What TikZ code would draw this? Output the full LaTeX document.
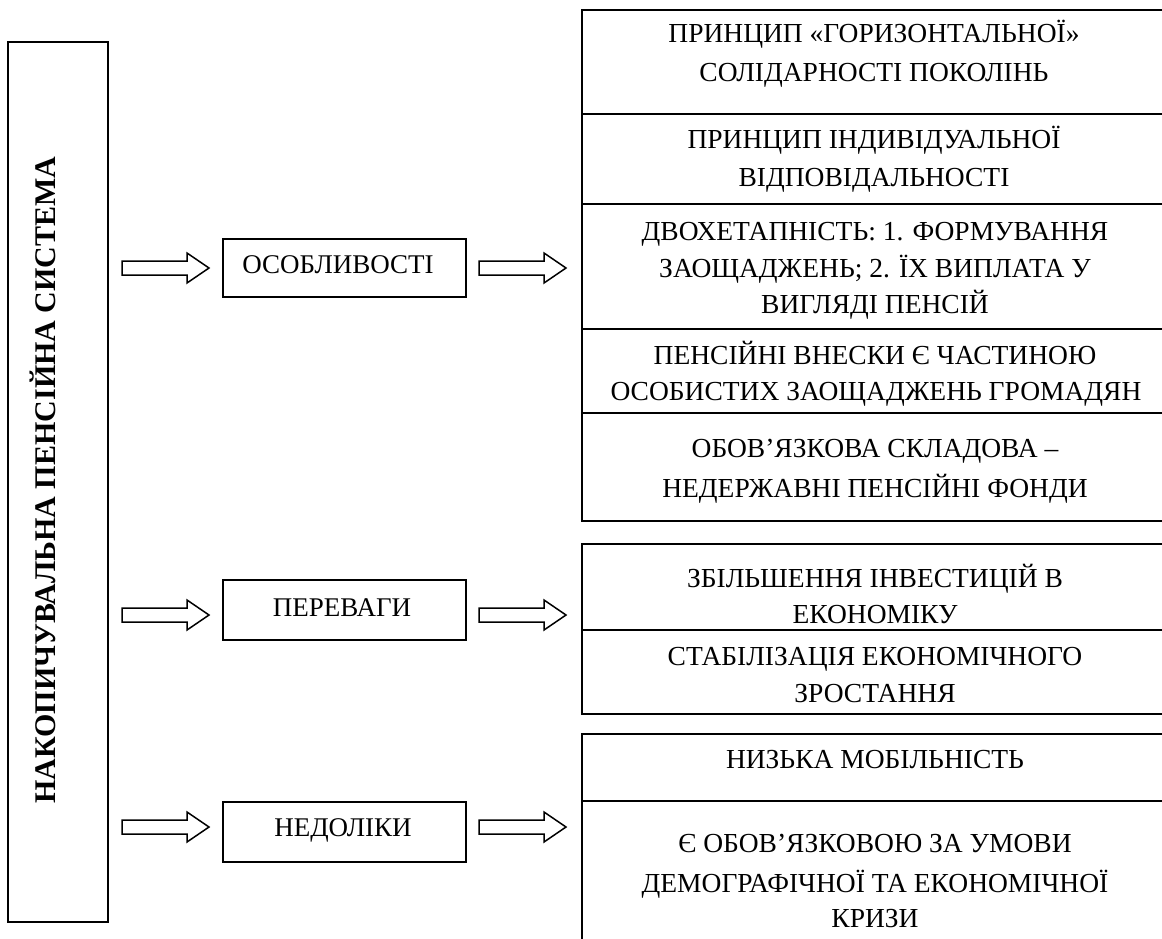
\documentclass[tikz,border=0pt]{standalone}
\usepackage{fontspec}
\setmainfont{Liberation Serif}
\begin{document}
\begin{tikzpicture}[x=1pt,y=-1pt,
  box/.style={draw, line width=1.6pt, rectangle, anchor=north west, inner sep=0pt},
  txt/.style={anchor=base, inner sep=0pt, font=\fontsize{27.5}{38}\selectfont},
  midtxt/.style={anchor=base, inner sep=0pt, font=\fontsize{27}{34}\selectfont},
  bigtxt/.style={anchor=base, inner sep=0pt, rotate=90, font=\fontsize{30}{34}\selectfont\bfseries},
  blockarrow/.pic={\draw[line width=1.5pt, line join=miter] (0,-7) -- (65,-7) -- (65,-15) -- (87,0) -- (65,15) -- (65,7) -- (0,7) -- cycle;}
]
\useasboundingbox (0,0) rectangle (1162,938);
\clip (0,0) rectangle (1162,938);

% left vertical box
\node[box, minimum width=100pt, minimum height=880pt] (main) at (7,41) {};
\node[bigtxt] (maint) at (55,480) {НАКОПИЧУВАЛЬНА ПЕНСІЙНА СИСТЕМА};

% arrows
\pic at (122,268) {blockarrow};
\pic at (479,268) {blockarrow};
\pic at (122,615) {blockarrow};
\pic at (479,615) {blockarrow};
\pic at (122,827) {blockarrow};
\pic at (479,827) {blockarrow};

% middle boxes
\node[box, minimum width=243pt, minimum height=58pt] (osob) at (222,238) {};
\node[midtxt] (osobt) at (338,273) {ОСОБЛИВОСТІ};
\node[box, minimum width=243pt, minimum height=60pt] (perev) at (222,579) {};
\node[midtxt] (perevt) at (342,616) {ПЕРЕВАГИ};
\node[box, minimum width=243pt, minimum height=60pt] (nedol) at (222,801) {};
\node[midtxt] (nedolt) at (343,836) {НЕДОЛІКИ};

% group 1
\node[box, minimum width=620pt, minimum height=104pt] (f1) at (581,9) {};
\node[box, minimum width=620pt, minimum height=90pt] (f2) at (581,113) {};
\node[box, minimum width=620pt, minimum height=125pt] (f3) at (581,203) {};
\node[box, minimum width=620pt, minimum height=84pt] (f4) at (581,328) {};
\node[box, minimum width=620pt, minimum height=108pt] (f5) at (581,412) {};
\node[txt] (f1a) at (874,42) {ПРИНЦИП «ГОРИЗОНТАЛЬНОЇ»};
\node[txt] (f1b) at (874,81) {СОЛІДАРНОСТІ ПОКОЛІНЬ};
\node[txt] (f2a) at (874,148) {ПРИНЦИП ІНДИВІДУАЛЬНОЇ};
\node[txt] (f2b) at (874,186) {ВІДПОВІДАЛЬНОСТІ};
\node[txt] (f3a) at (875,240) {ДВОХЕТАПНІСТЬ: 1. ФОРМУВАННЯ};
\node[txt] (f3b) at (875,277) {ЗАОЩАДЖЕНЬ; 2. ЇХ ВИПЛАТА У};
\node[txt] (f3c) at (875,313) {ВИГЛЯДІ ПЕНСІЙ};
\node[txt] (f4a) at (875,364) {ПЕНСІЙНІ ВНЕСКИ Є ЧАСТИНОЮ};
\node[txt] (f4b) at (876,400) {ОСОБИСТИХ ЗАОЩАДЖЕНЬ ГРОМАДЯН};
\node[txt] (f5a) at (875,457) {ОБОВʼЯЗКОВА СКЛАДОВА –};
\node[txt] (f5b) at (875,497) {НЕДЕРЖАВНІ ПЕНСІЙНІ ФОНДИ};

% group 2
\node[box, minimum width=620pt, minimum height=86pt] (p1) at (581,543) {};
\node[box, minimum width=620pt, minimum height=84pt] (p2) at (581,629) {};
\node[txt] (p1a) at (875,587) {ЗБІЛЬШЕННЯ ІНВЕСТИЦІЙ В};
\node[txt] (p1b) at (875,623) {ЕКОНОМІКУ};
\node[txt] (p2a) at (875,665) {СТАБІЛІЗАЦІЯ ЕКОНОМІЧНОГО};
\node[txt] (p2b) at (875,702) {ЗРОСТАННЯ};

% group 3
\node[box, minimum width=620pt, minimum height=67pt] (n1) at (581,733) {};
\node[box, minimum width=620pt, minimum height=160pt] (n2) at (581,800) {};
\node[txt] (n1a) at (875,768) {НИЗЬКА МОБІЛЬНІСТЬ};
\node[txt] (n2a) at (875,852) {Є ОБОВʼЯЗКОВОЮ ЗА УМОВИ};
\node[txt] (n2b) at (875,892) {ДЕМОГРАФІЧНОЇ ТА ЕКОНОМІЧНОЇ};
\node[txt] (n2c) at (875,927) {КРИЗИ};
\end{tikzpicture}
\end{document}
